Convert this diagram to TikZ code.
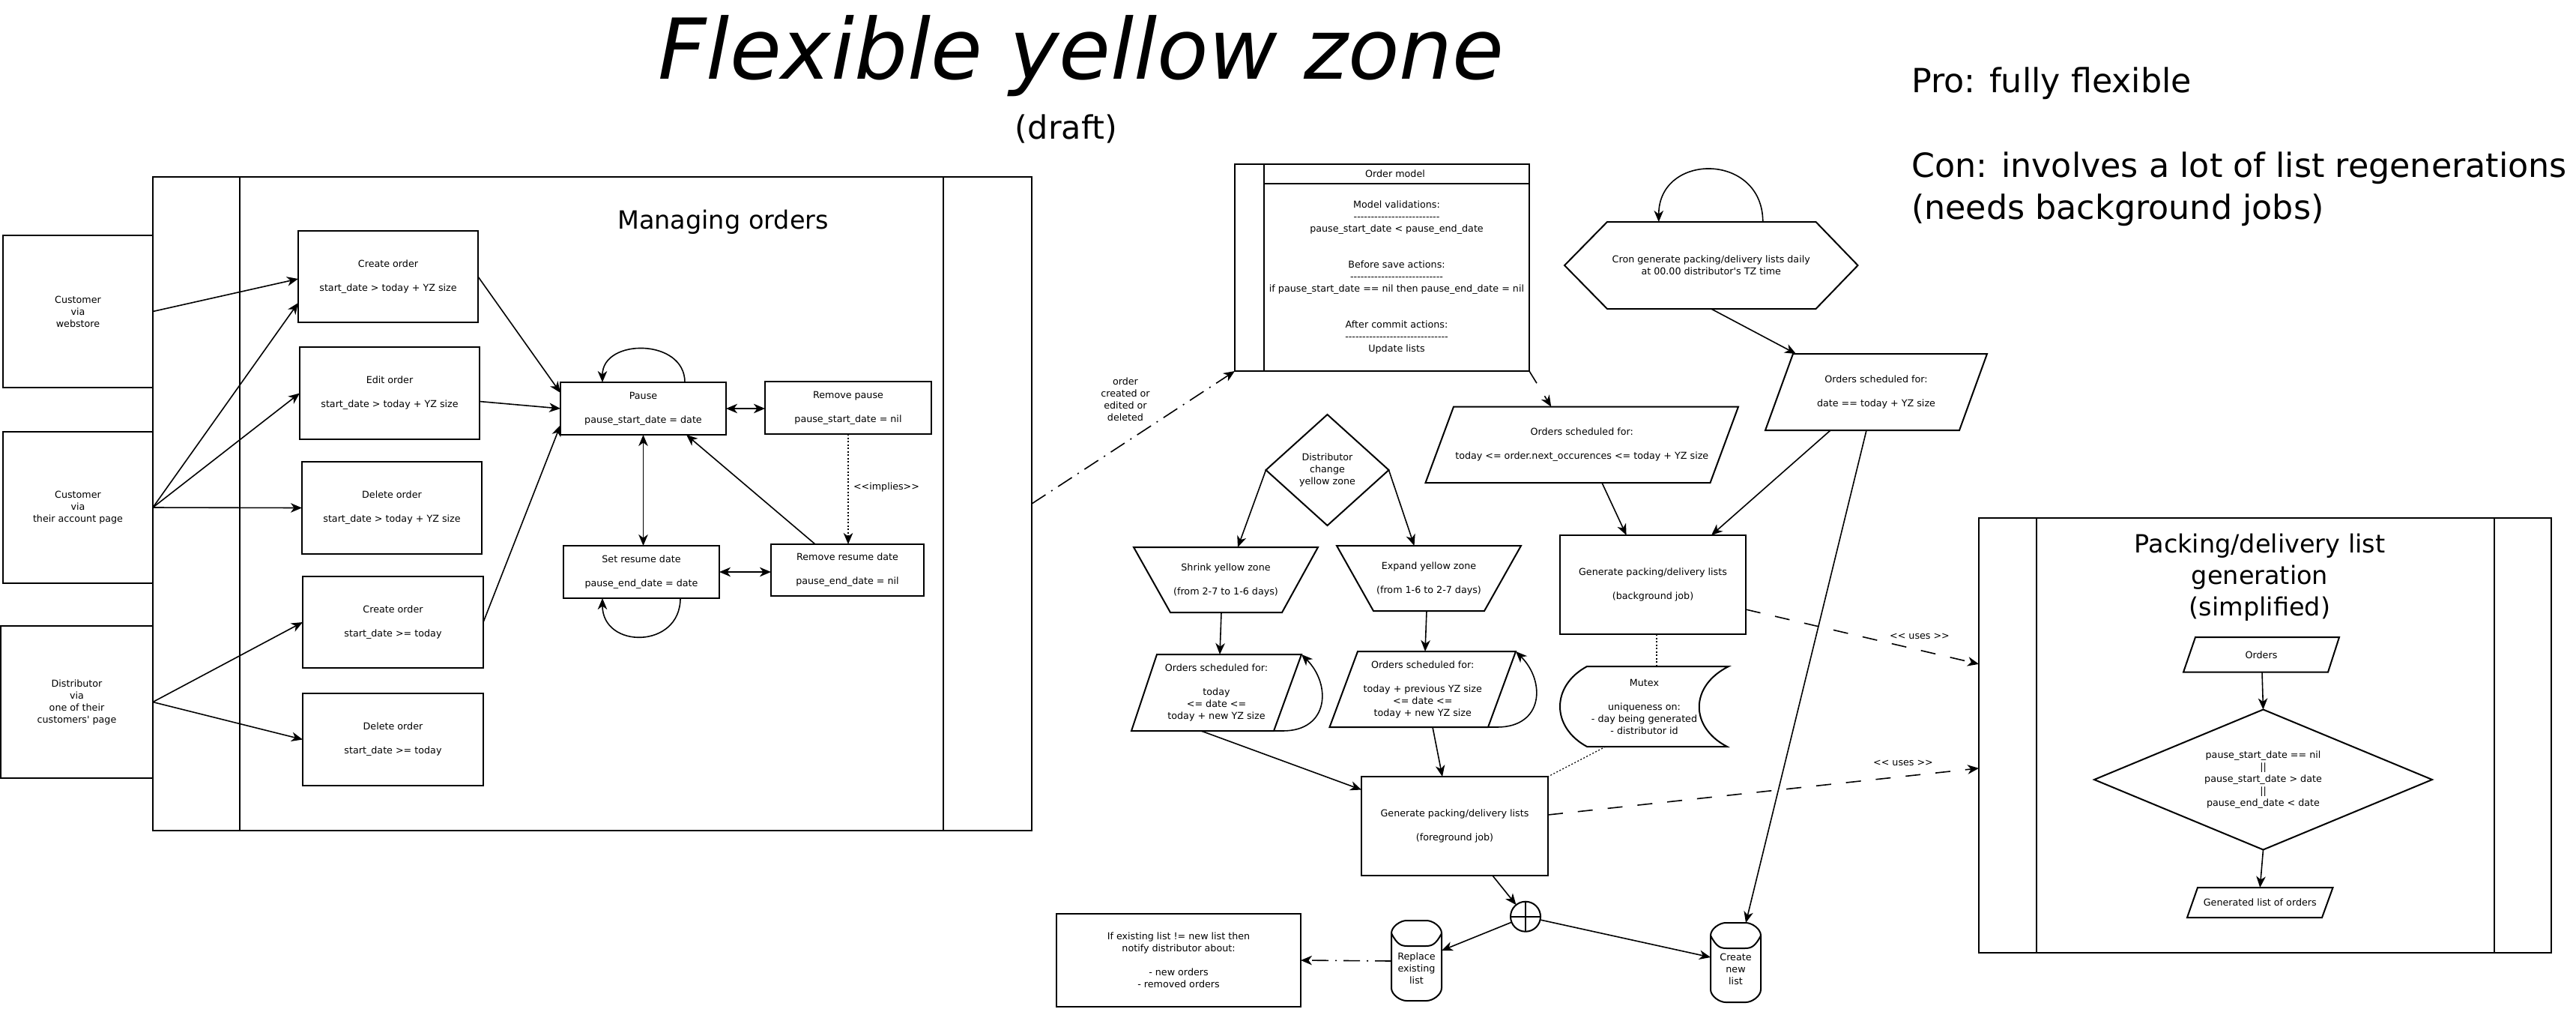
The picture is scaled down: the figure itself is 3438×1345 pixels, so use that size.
\documentclass[tikz,border=0pt]{standalone}
\usepackage{fontspec}
\setmainfont{DejaVu Sans}[Ligatures=TeXOff]
\usetikzlibrary{arrows.meta,calc}
\newcommand\drawcyl[4]{%
 \draw[shp] (#1,{#3+17}) .. controls (#1,{#3+8}) and ({#1+12},#3) .. ({#1+20},#3) -- ({#2-20},#3) .. controls ({#2-12},#3) and (#2,{#3+8}) .. (#2,{#3+17}) -- (#2,{#4-17}) .. controls (#2,{#4-8}) and ({#2-12},#4) .. ({#2-20},#4) -- ({#1+20},#4) .. controls ({#1+12},#4) and (#1,{#4-8}) .. (#1,{#4-17}) -- cycle;
 \draw[shp] (#1,{#3+17}) .. controls ({#1+8},{#3+33}) and ({#1+14},{#3+34}) .. ({#1+22},{#3+34}) -- ({#2-22},{#3+34}) .. controls ({#2-14},{#3+34}) and ({#2-8},{#3+33}) .. (#2,{#3+17});
}
\begin{document}
\begin{tikzpicture}[x=1pt,y=-1pt,
  >={Stealth[length=15pt,width=12.5pt,inset=4.5pt]},
  every node/.style={inner sep=0pt, outer sep=0pt},
  txt/.style={font=\fontsize{12.7}{16}\selectfont, align=center},
  box/.style={draw, line width=2pt, txt},
  shp/.style={line width=2pt, line join=miter},
  conn/.style={line width=1.6pt, ->},
  dconn/.style={line width=1.6pt, <->},
  dotln/.style={line width=1.6pt, dash pattern=on 2pt off 2.5pt},
  dashdot/.style={line width=1.6pt, dash pattern=on 22pt off 9pt on 2pt off 9pt},
  usesln/.style={line width=1.6pt, dash pattern=on 20pt off 20pt},
  bigtitle/.style={font=\fontsize{33.5}{42}\selectfont, align=center},
  bignote/.style={font=\fontsize{44.4}{56}\selectfont, anchor=base west},
]
\useasboundingbox (0,0) rectangle (3438,1345);

% ---------- titles
\node[font=\fontsize{112}{134}\selectfont\itshape, anchor=base] (title) at (1443,105) {Flexible yellow zone};
\node[font=\fontsize{43}{52}\selectfont, anchor=base] (draft) at (1423,185) {(draft)};
\node[bignote] (pro) at (2551,123) {Pro: fully flexible};
\node[bignote] (con) at (2551,236) {Con: involves a lot of list regenerations};
\node[bignote] (need) at (2551,292) {(needs background jobs)};

% ---------- Managing orders swimlane
\node[box, minimum width=1173pt, minimum height=872pt] (mo) at (790.5,672) {};
\draw[shp] ($(mo.north west)+(116,0)$) -- ($(mo.south west)+(116,0)$);
\draw[shp] ($(mo.north east)+(-118,0)$) -- ($(mo.south east)+(-118,0)$);
\node[bigtitle] (motitle) at (965,296) {Managing orders};

\node[box, minimum width=200pt, minimum height=203pt] (cw) at (104,415.5) {Customer\\via\\webstore};
\node[box, minimum width=200pt, minimum height=202pt] (ca) at (104,677) {Customer\\via\\their account page};
\node[box, minimum width=203pt, minimum height=203pt] (di) at (102.5,936.5) {Distributor\\via\\one of their\\customers' page};

\node[box, minimum width=240pt, minimum height=122pt] (co1) at (518,369) {Create order\\[16pt]start\_date > today + YZ size};
\node[box, minimum width=240pt, minimum height=123pt] (eo) at (520,524.5) {Edit order\\[16pt]start\_date > today + YZ size};
\node[box, minimum width=240pt, minimum height=123pt] (do1) at (523,677.5) {Delete order\\[16pt]start\_date > today + YZ size};
\node[box, minimum width=241pt, minimum height=122pt] (co2) at (524.5,830) {Create order\\[16pt]start\_date >= today};
\node[box, minimum width=241pt, minimum height=123pt] (do2) at (524.5,986.5) {Delete order\\[16pt]start\_date >= today};

\node[box, minimum width=221pt, minimum height=70pt] (pause) at (858.5,545) {Pause\\[16pt]pause\_start\_date = date};
\node[box, minimum width=222pt, minimum height=70pt] (rp) at (1132,544) {Remove pause\\[16pt]pause\_start\_date = nil};
\node[box, minimum width=208pt, minimum height=70pt] (srd) at (856,763) {Set resume date\\[16pt]pause\_end\_date = date};
\node[box, minimum width=204pt, minimum height=69pt] (rrd) at (1131,760.5) {Remove resume date\\[16pt]pause\_end\_date = nil};
\node[txt] (impl) at (1183,650) {<<implies>>};

% ---------- Order model
\node[box, minimum width=393pt, minimum height=276pt] (om) at (1844.5,357) {};
\draw[shp] ($(om.north west)+(39,0)$) -- ($(om.south west)+(39,0)$);
\draw[shp] ($(om.north west)+(39,25.5)$) -- ($(om.north east)+(0,25.5)$);
\node[txt] (omh) at (1862,232) {Order model};
\node[txt] (omb) at (1864,370) {Model validations:\\-------------------------\\pause\_start\_date < pause\_end\_date\\[32pt]Before save actions:\\---------------------------\\if pause\_start\_date == nil then pause\_end\_date = nil\\[32pt]After commit actions:\\------------------------------\\Update lists};
\node[txt] (occ) at (1502,533) {order\\created or\\edited or\\deleted};

% ---------- yellow zone change
\node[txt, minimum width=164pt, minimum height=148pt] (dz) at (1771.5,627) {Distributor\\change\\yellow zone};
\draw[shp] (dz.north) -- (dz.east) -- (dz.south) -- (dz.west) -- cycle;
\node[txt, minimum width=246pt, minimum height=87pt] (sh) at (1636,773.5) {Shrink yellow zone\\[16pt](from 2-7 to 1-6 days)};
\draw[shp] (sh.north west) -- (sh.north east) -- ($(sh.south east)+(-48,0)$) -- ($(sh.south west)+(49,0)$) -- cycle;
\node[txt, minimum width=246pt, minimum height=87pt] (ex) at (1907,771.5) {Expand yellow zone\\[16pt](from 1-6 to 2-7 days)};
\draw[shp] (ex.north west) -- (ex.north east) -- ($(ex.south east)+(-49,0)$) -- ($(ex.south west)+(49,0)$) -- cycle;

\node[txt, minimum width=227pt, minimum height=102pt] (osA) at (1623.5,924) {Orders scheduled for:\\[16pt]today\\<= date <=\\today + new YZ size};
\draw[shp] ($(osA.north west)+(34,0)$) -- (osA.north east) -- ($(osA.south east)+(-37,0)$) -- (osA.south west) -- cycle;
\node[txt, minimum width=248.5pt, minimum height=101pt] (osB) at (1898.75,919.5) {Orders scheduled for:\\[16pt]today + previous YZ size\\<= date <=\\today + new YZ size};
\draw[shp] ($(osB.north west)+(37.5,0)$) -- (osB.north east) -- ($(osB.south east)+(-37,0)$) -- (osB.south west) -- cycle;

% ---------- list generation
\node[txt, minimum width=417.5pt, minimum height=101.4pt] (p1) at (2111.25,593.3) {Orders scheduled for:\\[16pt]today <= order.next\_occurences <= today + YZ size};
\draw[shp] ($(p1.north west)+(37.5,0)$) -- (p1.north east) -- ($(p1.south east)+(-37.5,0)$) -- (p1.south west) -- cycle;
\node[box, minimum width=248pt, minimum height=132pt] (g1) at (2206,780) {Generate packing/delivery lists\\[16pt](background job)};
\node[txt, minimum width=391.5pt, minimum height=116pt] (cr) at (2283.75,354) {Cron generate packing/delivery lists daily\\at 00.00 distributor's TZ time};
\draw[shp] (cr.west) -- ($(cr.north west)+(57,0)$) -- ($(cr.north east)+(-56,0)$) -- (cr.east) -- ($(cr.south east)+(-56,0)$) -- ($(cr.south west)+(57,0)$) -- cycle;
\node[txt, minimum width=296pt, minimum height=102pt] (p2) at (2504,523) {Orders scheduled for:\\[16pt]date == today + YZ size};
\draw[shp] ($(p2.north west)+(37,0)$) -- (p2.north east) -- ($(p2.south east)+(-37,0)$) -- (p2.south west) -- cycle;
\node[txt, minimum width=225pt, minimum height=107pt] (mx) at (2194.5,942.5) {Mutex\\[16pt]uniqueness on:\\- day being generated\\- distributor id};
\draw[shp] (2118,889) -- (2307,889) .. controls (2255,915) and (2255,970) .. (2305,996) -- (2118,996) .. controls (2070,970) and (2070,915) .. (2118,889) -- cycle;
\node[box, minimum width=249pt, minimum height=132pt] (g2) at (1941.5,1102) {Generate packing/delivery lists\\[16pt](foreground job)};

\node[draw, circle, line width=2pt, minimum size=40pt] (jn) at (2036,1222.7) {};
\draw[line width=2pt] (jn.north) -- (jn.south) (jn.west) -- (jn.east);
\node[txt, minimum width=67pt, minimum height=86pt] (rl) at (1890.5,1292) {Replace\\existing\\list};
\drawcyl{1857}{1924}{1228}{1335}
\node[txt, minimum width=67pt, minimum height=86pt] (cn) at (2316.5,1293) {Create\\new\\list};
\drawcyl{2283}{2350}{1231}{1337}
\node[box, minimum width=326pt, minimum height=124pt] (nt) at (1573,1281) {If existing list != new list then\\notify distributor about:\\[16pt]- new orders\\- removed orders};

% ---------- Packing swimlane
\node[box, minimum width=764pt, minimum height=580.3pt] (pk) at (3023,980.85) {};
\draw[shp] ($(pk.north west)+(77,0)$) -- ($(pk.south west)+(77,0)$);
\draw[shp] ($(pk.north east)+(-76,0)$) -- ($(pk.south east)+(-76,0)$);
\node[bigtitle] (pkt) at (3016,770) {Packing/delivery list\\generation\\(simplified)};
\node[txt, minimum width=208pt, minimum height=46.6pt] (or) at (3018,873.3) {Orders};
\draw[shp] ($(or.north west)+(16,0)$) -- (or.north east) -- ($(or.south east)+(-15,0)$) -- (or.south west) -- cycle;
\node[txt, minimum width=451pt, minimum height=187pt] (dc) at (3020.5,1040) {pause\_start\_date == nil\\||\\pause\_start\_date > date\\||\\pause\_end\_date < date};
\draw[shp] (dc.north) -- (dc.east) -- (dc.south) -- (dc.west) -- cycle;
\node[txt, minimum width=194.5pt, minimum height=40pt] (gl) at (3016.25,1204) {Generated list of orders};
\draw[shp] ($(gl.north west)+(14,0)$) -- (gl.north east) -- ($(gl.south east)+(-14.5,0)$) -- (gl.south west) -- cycle;
\node[txt] (u1) at (2562,849) {<< uses >>};
\node[txt] (u2) at (2540,1018) {<< uses >>};

% ---------- connectors
\draw[conn] (cw.east) -- ($(co1.west)+(0,3)$);
\draw[conn] (ca.east) -- ($(co1.west)+(0,35)$);
\draw[conn] (ca.east) -- (eo.west);
\draw[conn] (ca.east) -- (do1.west);
\draw[conn] (di.east) -- (co2.west);
\draw[conn] (di.east) -- (do2.west);
\draw[conn] (co1.east) -- ($(pause.west)+(0,-21)$);
\draw[conn] ($(eo.east)+(0,11)$) -- (pause.west);
\draw[conn] (co2.east) -- ($(pause.west)+(0,22)$);
\draw[dconn] (pause.east) -- (pause.east -| rp.west);
\draw[dconn] (pause.south) -- (pause.south |- srd.north);
\draw[conn] ($(rrd.north)+(-43,0)$) -- ($(pause.south)+(57.5,0)$);
\draw[dotln, ->] (rp.south) -- (rp.south |- rrd.north);
\draw[dconn] (srd.east) -- (srd.east -| rrd.west);
\draw[conn] ($(pause.north)+(55.5,0)$) .. controls +(0,-59) and +(0,-59) .. ($(pause.north)+(-54.5,0)$);
\draw[conn] ($(srd.south)+(52,0)$) .. controls +(0,68) and +(0,68) .. ($(srd.south)+(-52,0)$);

\draw[dashdot, ->] (mo.east) -- (om.south west);
\draw[line width=1.6pt, dash pattern=on 19pt off 20pt on 200pt, ->] (om.south east) -- ($(p1.north)+(-41,0)$);

\draw[conn] (dz.west) -- ($(sh.north)+(16,0)$);
\draw[conn] (dz.east) -- ($(ex.north)+(-19.5,0)$);
\draw[conn] ($(sh.south)+(-6,0)$) -- ($(osA.north west)+(118,0)$);
\draw[conn] ($(ex.south)+(-3,0)$) -- ($(osB.north west)+(127.5,0)$);
\draw[conn] ($(osA.south east)+(-37,0)$) -- ++(12,0) .. controls +(62,0) and +(40,40) .. (osA.north east);
\draw[conn] ($(osB.south east)+(-37,0)$) -- ++(12,0) .. controls +(62,0) and +(40,40) .. (osB.north east);
\draw[conn] ($(osA.south west)+(93,0)$) -- ($(g2.west)+(0,-48.5)$);
\draw[conn] ($(osB.south west)+(137.5,0)$) -- ($(g2.north)+(-16.5,0)$);

\draw[conn] ($(p1.south)+(26.75,0)$) -- ($(g1.north)+(-35.4,0)$);
\draw[conn] ($(cr.north)+(69,0)$) .. controls +(0,-93) and +(0,-93) .. ($(cr.north)+(-70,0)$);
\draw[conn] (cr.south) -- ($(p2.north west)+(41,0)$);
\draw[conn] ($(p2.south)+(-61,0)$) -- ($(g1.north east)+(-46,0)$);
\draw[conn] ($(p2.south)+(-13,0)$) -- ($(cn.north)+(13.5,-19)$);
\draw[dotln] ($(g1.south)+(5,0)$) -- ($(mx.north)+(16.5,0)$);
\draw[dotln, line width=1.2pt] ($(mx.south)+(-51.5,0)$) -- (g2.north east);

\draw[usesln, ->] ($(g1.east)+(0,33)$) -- ($(pk.west)+(0,-95)$);
\draw[usesln, ->] ($(g2.east)+(0,-15)$) -- ($(pk.west)+(0,44)$);

\draw[conn] ($(g2.south)+(50.5,0)$) -- (jn);
\draw[conn] (jn) -- ($(rl.east)+(0,-24)$);
\draw[conn] (jn) -- ($(cn.west)+(0,-16)$);
\draw[dashdot, ->] ($(rl.west)+(0,-10)$) -- (nt.east);

\draw[conn] ($(or.south)+(1,0)$) -- (dc.north);
\draw[conn] (dc.south) -- (gl.north);
\end{tikzpicture}
\end{document}
